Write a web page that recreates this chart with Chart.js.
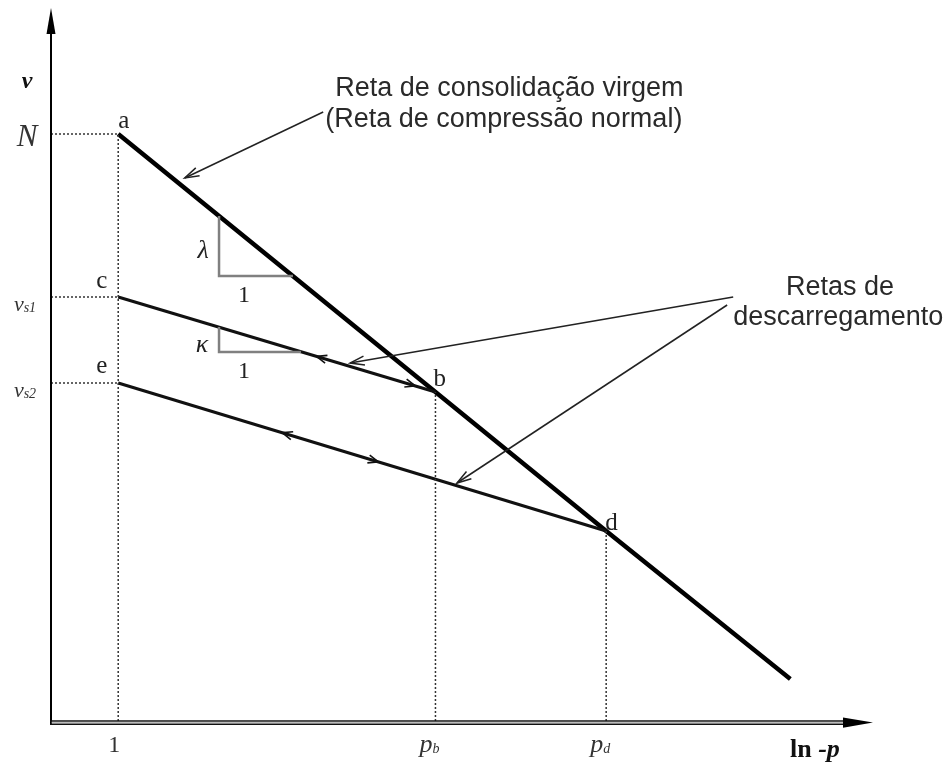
<!DOCTYPE html>
<html>
<head>
<meta charset="utf-8">
<script src="https://cdn.jsdelivr.net/npm/chart.js@4/dist/chart.umd.min.js"></script>
<style>
  html, body { margin: 0; padding: 0; background: #fff; }
  canvas { display: block; }
</style>
</head>
<body>
<canvas id="grafico" width="951" height="769"></canvas>
<script>
// eixo x = ln p, eixo y = v (volume específico)
const xNCL = [0, 4.72, 7.26, 10.0];
const vNCL = [5.87, 3.29, 1.90, 0.42];

const xCB = [0, 4.72];
const vCB = [4.24, 3.29];

const xED = [0, 7.26];
const vED = [3.38, 1.90];

const xLambda = [1.5, 1.5, 2.6];
const vLambda = [5.05, 4.45, 4.45];
const xKappa = [1.5, 1.5, 2.72];
const vKappa = [3.94, 3.69, 3.69];

const pontoNomes = ['a', 'b', 'c', 'd', 'e'];
const pontoX = [0, 4.72, 0, 7.26, 0];
const pontoV = [5.87, 3.29, 4.24, 1.90, 3.38];

const xTicks = [0, 4.72, 7.26];
const xTickV = [5.87, 3.29, 1.90];
const xTickTxt = ['1', 'p', 'p'];
const xTickSub = ['', 'b', 'd'];

const vTicks = [5.87, 4.24, 3.38];
const vTickTxt = ['N', 'v', 'v'];
const vTickSub = ['', 's1', 's2'];

// setas de sentido sobre as retas de descarregamento
const setaX = [2.95, 4.42, 2.44, 3.87];
const setaReta = ['cb', 'cb', 'ed', 'ed'];
const setaDir = [-1, 1, -1, 1];

const X_MIN = -1, X_MAX = 11.23, V_MIN = 0, V_MAX = 7.13;

function pts(xs, vs) {
  return xs.map((x, i) => ({ x: x, y: vs[i] }));
}

function linha(xs, vs, cor, larg, dash) {
  return {
    data: pts(xs, vs),
    showLine: true,
    borderColor: cor,
    borderWidth: larg,
    borderDash: dash || [],
    pointRadius: 0,
    fill: false,
    tension: 0,
  };
}

const datasets = [];
// linhas pontilhadas de referência
xTicks.forEach((x, i) => {
  datasets.push(linha([x, x], [V_MIN, xTickV[i]], '#333', 1.5, [2, 2]));
});
vTicks.forEach((v) => {
  datasets.push(linha([X_MIN, 0], [v, v], '#333', 1.5, [2, 2]));
});
datasets.push(linha(xLambda, vLambda, '#808080', 2.5));
datasets.push(linha(xKappa, vKappa, '#808080', 2.5));
datasets.push(linha(xCB, vCB, '#111', 3));
datasets.push(linha(xED, vED, '#111', 3));
datasets.push(linha(xNCL, vNCL, '#000', 4.5));

function setaAberta(ctx, x1, y1, x2, y2, len, ang) {
  const a = Math.atan2(y2 - y1, x2 - x1);
  ctx.beginPath();
  ctx.moveTo(x2 - len * Math.cos(a - ang), y2 - len * Math.sin(a - ang));
  ctx.lineTo(x2, y2);
  ctx.lineTo(x2 - len * Math.cos(a + ang), y2 - len * Math.sin(a + ang));
  ctx.stroke();
}

function textoSub(ctx, x, y, txt, sub, fonte, fonteSub, alinhar) {
  ctx.font = fonte;
  const w1 = ctx.measureText(txt).width;
  ctx.font = fonteSub;
  const w2 = sub ? ctx.measureText(sub).width : 0;
  let x0 = x;
  if (alinhar === 'center') x0 = x - (w1 + w2) / 2;
  ctx.textAlign = 'left';
  ctx.font = fonte;
  ctx.fillText(txt, x0, y);
  if (sub) {
    ctx.font = fonteSub;
    ctx.fillText(sub, x0 + w1, y + 1);
  }
}

const desenhos = {
  id: 'desenhos',
  afterDraw(chart) {
    const ctx = chart.ctx;
    const sx = chart.scales.x, sy = chart.scales.y;
    const X = (v) => sx.getPixelForValue(v);
    const Y = (v) => sy.getPixelForValue(v);
    const area = chart.chartArea;
    ctx.save();

    // eixo v
    ctx.strokeStyle = '#000';
    ctx.fillStyle = '#000';
    ctx.lineWidth = 2;
    ctx.beginPath();
    ctx.moveTo(area.left, area.bottom + 3);
    ctx.lineTo(area.left, area.top + 20);
    ctx.stroke();
    ctx.beginPath();
    ctx.moveTo(area.left, area.top);
    ctx.lineTo(area.left - 4.5, area.top + 26);
    ctx.lineTo(area.left + 4.5, area.top + 26);
    ctx.closePath();
    ctx.fill();

    // eixo ln p (linha dupla)
    ctx.lineWidth = 1.6;
    ctx.strokeStyle = '#111';
    [area.bottom, area.bottom + 3.2].forEach((yy) => {
      ctx.beginPath();
      ctx.moveTo(area.left - 1, yy);
      ctx.lineTo(area.right - 24, yy);
      ctx.stroke();
    });
    ctx.fillStyle = 'rgba(120,120,120,0.5)';
    ctx.fillRect(area.left, area.bottom + 0.8, area.right - 24 - area.left, 1.6);
    ctx.fillStyle = '#000';
    ctx.beginPath();
    ctx.moveTo(area.right, area.bottom + 1.6);
    ctx.lineTo(area.right - 30, area.bottom - 3.5);
    ctx.lineTo(area.right - 30, area.bottom + 6.7);
    ctx.closePath();
    ctx.fill();

    // setas de sentido
    ctx.strokeStyle = '#111';
    ctx.lineWidth = 1.6;
    setaX.forEach((x, i) => {
      const xs = setaReta[i] === 'cb' ? xCB : xED;
      const vs = setaReta[i] === 'cb' ? vCB : vED;
      const t = (x - xs[0]) / (xs[1] - xs[0]);
      const v = vs[0] + t * (vs[1] - vs[0]);
      const d = 0.3 * setaDir[i];
      const v0 = vs[0] + ((x - d - xs[0]) / (xs[1] - xs[0])) * (vs[1] - vs[0]);
      setaAberta(ctx, X(x - d), Y(v0), X(x), Y(v), 11, 0.38);
    });

    // setas das anotações
    ctx.strokeStyle = '#222';
    ctx.lineWidth = 1.5;
    const notas = [
      [3.05, 6.09, 0.99, 5.43],
      [9.15, 4.24, 3.45, 3.58],
      [9.06, 4.16, 5.04, 2.38],
    ];
    notas.forEach((n) => {
      ctx.beginPath();
      ctx.moveTo(X(n[0]), Y(n[1]));
      ctx.lineTo(X(n[2]), Y(n[3]));
      ctx.stroke();
      setaAberta(ctx, X(n[0]), Y(n[1]), X(n[2]), Y(n[3]), 15, 0.3);
    });

    // textos das anotações
    ctx.fillStyle = '#2a2a2a';
    ctx.textBaseline = 'alphabetic';
    ctx.textAlign = 'left';
    ctx.font = '27px "Liberation Sans", Arial, sans-serif';
    ctx.fillText('Reta de consolidação virgem', X(3.23), Y(6.25));
    ctx.fillText('(Reta de compressão normal)', X(3.08), Y(5.94));
    ctx.textAlign = 'center';
    ctx.fillText('Retas de', X(10.74), Y(4.26));
    ctx.textAlign = 'left';
    ctx.fillText('descarregamento', X(9.15), Y(3.96));

    // nomes dos pontos
    ctx.fillStyle = '#222';
    ctx.font = '25px "Liberation Serif", "Times New Roman", serif';
    const offs = { a: [0, -6], b: [-2, -6], c: [-22, -9], d: [-1, -1], e: [-22, -10] };
    pontoNomes.forEach((n, i) => {
      const o = offs[n];
      ctx.fillText(n, X(pontoX[i]) + o[0], Y(pontoV[i]) + o[1]);
    });

    // λ, κ e 1
    ctx.font = 'italic 26px "Liberation Serif", serif';
    ctx.textAlign = 'center';
    ctx.fillText('λ', X(xLambda[0]) - 16, Y((vLambda[0] + vLambda[1]) / 2) + 12);
    ctx.fillText('κ', X(xKappa[0]) - 17, Y((vKappa[0] + vKappa[1]) / 2) + 12);
    ctx.font = '24px "Liberation Serif", serif';
    ctx.fillText('1', X(xLambda[1]) + 25, Y(vLambda[2]) + 26);
    ctx.fillText('1', X(xKappa[1]) + 25, Y(vKappa[2]) + 26);

    // rótulos do eixo v
    ctx.fillStyle = '#333';
    vTicks.forEach((v, i) => {
      if (vTickTxt[i] === 'N') {
        ctx.font = 'italic 31px "Liberation Serif", serif';
        ctx.textAlign = 'center';
        ctx.fillText('N', 27, Y(v) + 12);
      } else {
        textoSub(ctx, 25, Y(v) + 14, vTickTxt[i], vTickSub[i],
          'italic 22px "Liberation Serif", serif', 'italic 14px "Liberation Serif", serif', 'center');
      }
    });
    ctx.fillStyle = '#111';
    ctx.font = 'italic bold 24px "Liberation Serif", serif';
    ctx.textAlign = 'center';
    ctx.fillText('v', 27, 88);

    // rótulos do eixo ln p
    ctx.fillStyle = '#333';
    xTicks.forEach((x, i) => {
      if (!xTickSub[i]) {
        ctx.font = '24px "Liberation Serif", serif';
        ctx.textAlign = 'center';
        ctx.fillText(xTickTxt[i], X(x) - 4, area.bottom + 31);
      } else {
        textoSub(ctx, X(x) - 6, area.bottom + 31, xTickTxt[i], xTickSub[i],
          'italic 26px "Liberation Serif", serif', 'italic 14px "Liberation Serif", serif', 'center');
      }
    });
    ctx.fillStyle = '#111';
    ctx.textAlign = 'left';
    ctx.font = 'bold 26px "Liberation Serif", serif';
    ctx.fillText('ln', 790, area.bottom + 36);
    const wln = ctx.measureText('ln ').width;
    ctx.font = 'italic bold 26px "Liberation Serif", serif';
    ctx.fillText('-p', 790 + wln, area.bottom + 36);

    ctx.restore();
  },
};

new Chart(document.getElementById('grafico').getContext('2d'), {
  type: 'scatter',
  data: { datasets: datasets },
  options: {
    responsive: false,
    devicePixelRatio: 1,
    animation: false,
    layout: { padding: { left: 51, right: 78, top: 8, bottom: 48 } },
    scales: {
      x: { type: 'linear', min: X_MIN, max: X_MAX, display: false },
      y: { type: 'linear', min: V_MIN, max: V_MAX, display: false },
    },
    plugins: { legend: { display: false }, tooltip: { enabled: false } },
    elements: { line: { borderCapStyle: 'butt' } },
  },
  plugins: [desenhos],
});
</script>
</body>
</html>
